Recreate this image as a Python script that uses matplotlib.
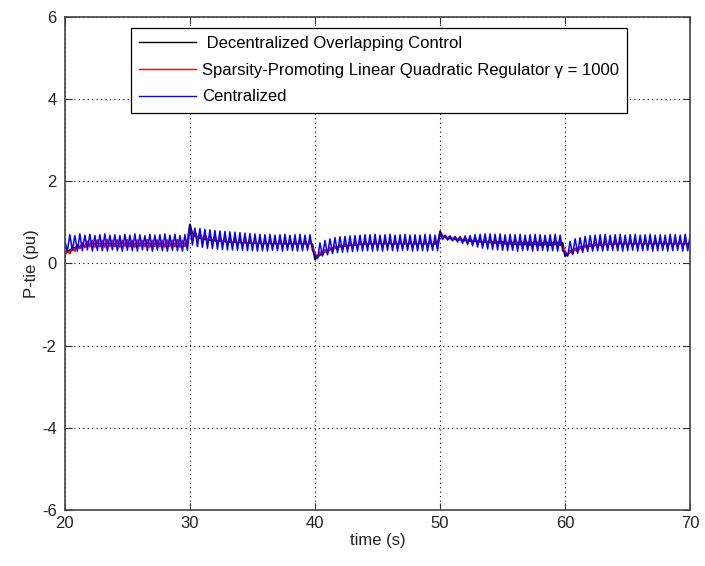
import numpy as np
import matplotlib.pyplot as plt

plt.rcParams['font.family'] = ['Liberation Sans', 'DejaVu Sans']
plt.rcParams['axes.unicode_minus'] = False

# P-tie samples every 0.2 s from 20 s to 70 s
decentralized = [
    0.25, 0.30, 0.32, 0.37, 0.38, 0.42, 0.41, 0.45, 0.43, 0.48, 0.45, 0.50, 0.45, 0.51, 0.46, 0.50, 0.45, 0.51, 0.46, 0.50, 0.45, 0.51, 0.46, 0.50, 0.45,
    0.51, 0.46, 0.50, 0.45, 0.51, 0.46, 0.50, 0.45, 0.51, 0.46, 0.50, 0.45, 0.51, 0.46, 0.50, 0.45, 0.51, 0.46, 0.50, 0.45, 0.51, 0.46, 0.50, 0.45, 0.51,
    0.95, 0.72, 0.67, 0.64, 0.62, 0.60, 0.59, 0.58, 0.57, 0.56, 0.56, 0.54, 0.55, 0.53, 0.54, 0.52, 0.53, 0.51, 0.53, 0.50, 0.52, 0.49, 0.52, 0.49, 0.51,
    0.48, 0.51, 0.48, 0.51, 0.47, 0.50, 0.47, 0.51, 0.46, 0.50, 0.46, 0.51, 0.46, 0.50, 0.45, 0.51, 0.46, 0.50, 0.45, 0.51, 0.46, 0.50, 0.45, 0.51, 0.46,
    0.10, 0.16, 0.21, 0.25, 0.29, 0.32, 0.34, 0.36, 0.38, 0.40, 0.41, 0.42, 0.43, 0.43, 0.45, 0.44, 0.46, 0.45, 0.48, 0.46, 0.49, 0.46, 0.50, 0.46, 0.50,
    0.46, 0.51, 0.45, 0.50, 0.46, 0.51, 0.45, 0.50, 0.46, 0.51, 0.45, 0.50, 0.46, 0.51, 0.45, 0.50, 0.46, 0.51, 0.45, 0.50, 0.46, 0.51, 0.45, 0.50, 0.46,
    0.78, 0.66, 0.64, 0.62, 0.61, 0.60, 0.59, 0.58, 0.58, 0.57, 0.56, 0.56, 0.55, 0.55, 0.54, 0.54, 0.53, 0.53, 0.52, 0.53, 0.51, 0.52, 0.50, 0.52, 0.49,
    0.52, 0.48, 0.51, 0.48, 0.51, 0.47, 0.51, 0.46, 0.50, 0.46, 0.51, 0.45, 0.50, 0.46, 0.51, 0.45, 0.50, 0.46, 0.51, 0.45, 0.50, 0.46, 0.51, 0.45, 0.50,
    0.18, 0.23, 0.27, 0.31, 0.34, 0.36, 0.38, 0.40, 0.41, 0.42, 0.43, 0.44, 0.45, 0.45, 0.46, 0.45, 0.47, 0.46, 0.48, 0.46, 0.49, 0.46, 0.50, 0.45, 0.50,
    0.46, 0.51, 0.45, 0.50, 0.46, 0.51, 0.45, 0.50, 0.46, 0.51, 0.45, 0.50, 0.46, 0.51, 0.45, 0.50, 0.46, 0.51, 0.45, 0.50, 0.46, 0.51, 0.45, 0.50, 0.46, 0.50,
]

splqr = [
    0.20, 0.30, 0.24, 0.38, 0.30, 0.45, 0.36, 0.50, 0.39, 0.54, 0.41, 0.56, 0.40, 0.57, 0.41, 0.56, 0.40, 0.58, 0.42, 0.56, 0.41, 0.57, 0.40, 0.56, 0.42,
    0.58, 0.41, 0.56, 0.40, 0.57, 0.42, 0.56, 0.41, 0.58, 0.40, 0.56, 0.42, 0.57, 0.41, 0.56, 0.40, 0.57, 0.42, 0.56, 0.41, 0.58, 0.40, 0.56, 0.42, 0.57,
    0.85, 0.62, 0.80, 0.60, 0.75, 0.57, 0.71, 0.55, 0.68, 0.53, 0.66, 0.51, 0.64, 0.49, 0.63, 0.48, 0.62, 0.46, 0.61, 0.45, 0.60, 0.44, 0.59, 0.44, 0.58,
    0.43, 0.58, 0.42, 0.57, 0.41, 0.56, 0.42, 0.57, 0.41, 0.56, 0.40, 0.57, 0.42, 0.56, 0.41, 0.57, 0.40, 0.56, 0.42, 0.57, 0.41, 0.56, 0.40, 0.57, 0.41,
    0.25, 0.14, 0.28, 0.20, 0.33, 0.25, 0.38, 0.29, 0.42, 0.33, 0.45, 0.35, 0.48, 0.37, 0.50, 0.38, 0.52, 0.39, 0.53, 0.40, 0.54, 0.40, 0.55, 0.41, 0.56,
    0.40, 0.57, 0.41, 0.56, 0.42, 0.57, 0.41, 0.56, 0.40, 0.57, 0.42, 0.56, 0.41, 0.57, 0.40, 0.56, 0.41, 0.57, 0.42, 0.56, 0.40, 0.57, 0.41, 0.56, 0.42,
    0.72, 0.62, 0.69, 0.61, 0.67, 0.59, 0.65, 0.57, 0.64, 0.55, 0.63, 0.53, 0.62, 0.51, 0.61, 0.49, 0.60, 0.47, 0.59, 0.46, 0.58, 0.45, 0.58, 0.44, 0.57,
    0.43, 0.57, 0.42, 0.56, 0.41, 0.57, 0.42, 0.56, 0.41, 0.57, 0.40, 0.56, 0.42, 0.57, 0.41, 0.56, 0.40, 0.57, 0.41, 0.56, 0.42, 0.57, 0.40, 0.56, 0.41,
    0.30, 0.19, 0.32, 0.24, 0.37, 0.28, 0.41, 0.32, 0.45, 0.35, 0.48, 0.37, 0.51, 0.38, 0.53, 0.39, 0.54, 0.40, 0.55, 0.41, 0.56, 0.40, 0.57, 0.41, 0.56,
    0.42, 0.57, 0.41, 0.56, 0.40, 0.57, 0.42, 0.56, 0.41, 0.57, 0.40, 0.56, 0.41, 0.57, 0.42, 0.56, 0.40, 0.57, 0.41, 0.56, 0.42, 0.57, 0.40, 0.56, 0.41, 0.56,
]

centralized = [
    0.55, 0.30, 0.70, 0.32, 0.68, 0.30, 0.72, 0.31, 0.69, 0.33, 0.71, 0.30, 0.68, 0.32, 0.70, 0.31, 0.72, 0.30, 0.69, 0.33, 0.70, 0.31, 0.68, 0.30, 0.71,
    0.32, 0.69, 0.31, 0.72, 0.30, 0.70, 0.33, 0.68, 0.31, 0.71, 0.30, 0.69, 0.32, 0.70, 0.31, 0.72, 0.30, 0.69, 0.32, 0.71, 0.31, 0.68, 0.30, 0.70, 0.32,
    0.90, 0.45, 0.86, 0.41, 0.85, 0.39, 0.83, 0.37, 0.82, 0.36, 0.80, 0.35, 0.79, 0.34, 0.78, 0.33, 0.77, 0.33, 0.76, 0.32, 0.75, 0.32, 0.74, 0.31, 0.73,
    0.31, 0.72, 0.30, 0.71, 0.31, 0.70, 0.30, 0.71, 0.32, 0.69, 0.31, 0.70, 0.30, 0.71, 0.32, 0.69, 0.31, 0.70, 0.30, 0.71, 0.31, 0.69, 0.32, 0.70, 0.31,
    0.20, 0.12, 0.50, 0.18, 0.56, 0.21, 0.60, 0.24, 0.63, 0.26, 0.65, 0.27, 0.66, 0.28, 0.67, 0.29, 0.68, 0.30, 0.69, 0.30, 0.70, 0.31, 0.70, 0.30, 0.71,
    0.31, 0.69, 0.30, 0.70, 0.32, 0.71, 0.31, 0.69, 0.30, 0.70, 0.31, 0.71, 0.32, 0.69, 0.30, 0.70, 0.31, 0.69, 0.31, 0.71, 0.30, 0.70, 0.32, 0.69, 0.31,
    0.75, 0.58, 0.68, 0.57, 0.66, 0.55, 0.65, 0.52, 0.66, 0.49, 0.67, 0.46, 0.68, 0.43, 0.70, 0.40, 0.71, 0.37, 0.72, 0.35, 0.72, 0.34, 0.71, 0.33, 0.72,
    0.32, 0.70, 0.31, 0.71, 0.32, 0.70, 0.30, 0.71, 0.31, 0.69, 0.32, 0.70, 0.30, 0.71, 0.31, 0.70, 0.32, 0.69, 0.30, 0.70, 0.31, 0.71, 0.30, 0.69, 0.31,
    0.25, 0.18, 0.54, 0.22, 0.60, 0.25, 0.63, 0.27, 0.66, 0.29, 0.68, 0.30, 0.69, 0.31, 0.70, 0.30, 0.71, 0.31, 0.69, 0.32, 0.70, 0.31, 0.71, 0.30, 0.69,
    0.31, 0.70, 0.32, 0.71, 0.30, 0.69, 0.31, 0.70, 0.32, 0.71, 0.30, 0.69, 0.31, 0.70, 0.32, 0.69, 0.30, 0.71, 0.31, 0.70, 0.32, 0.69, 0.30, 0.71, 0.31, 0.70,
]

labels = [' Decentralized Overlapping Control',
          'Sparsity-Promoting Linear Quadratic Regulator \u03b3 = 1000',
          'Centralized']
colors = ['black', 'red', 'blue']
widths = [1.4, 1.3, 1.1]

fig = plt.figure(figsize=(7.05, 5.66), dpi=100)
ax = fig.add_axes([0.092, 0.099, 0.887, 0.871])

for vals, lab, col, w in zip([decentralized, splqr, centralized], labels, colors, widths):
    t = np.linspace(20, 70, len(vals))
    ax.plot(t, vals, color=col, lw=w, label=lab)

ax.set_xlim(20, 70)
ax.set_ylim(-6, 6)
ax.set_xticks([20, 30, 40, 50, 60, 70])
ax.set_yticks([-6, -4, -2, 0, 2, 4, 6])
ax.grid(True, linestyle=(0, (1, 3)), color='black', lw=0.8)
ax.tick_params(direction='in', labelsize=12, length=5, color='#333333',
               top=True, right=True, labelcolor='#222222')
ax.tick_params(axis='x', pad=4)
ax.tick_params(axis='y', pad=6)
for s in ax.spines.values():
    s.set_color('#444444')
    s.set_linewidth(1.2)

ax.set_xlabel('time (s)', fontsize=12, color='#222222', labelpad=2)
ax.set_ylabel('P-tie (pu)', fontsize=12, color='#222222', labelpad=2)

leg = ax.legend(loc='upper right', bbox_to_anchor=(0.899, 0.978), borderaxespad=0,
                fontsize=12, fancybox=False, framealpha=1, edgecolor='black',
                handlelength=3.4, borderpad=0.5, labelspacing=0.7, handletextpad=0.35)
leg.get_frame().set_linewidth(0.9)
for line in leg.get_lines():
    line.set_linewidth(1.0)

fig.savefig('out.png', dpi=100)
